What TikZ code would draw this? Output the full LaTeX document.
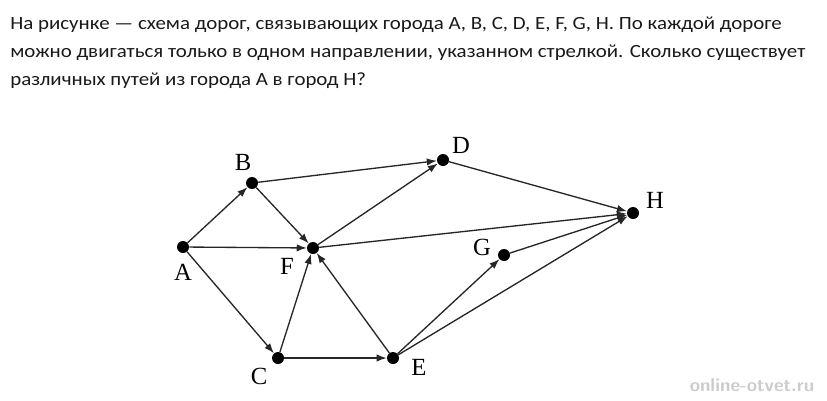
\documentclass[tikz,border=0pt]{standalone}
\usepackage{fontspec}
\setmainfont{Carlito}
\newfontfamily\labelfont{Liberation Serif}
\usetikzlibrary{arrows.meta,positioning}
\begin{document}
\begin{tikzpicture}
        [x=0.75pt, y=-0.75pt,
        city/.style={circle, fill=black, inner sep=0pt, minimum size=9pt},
        road/.style={draw=black!85, line width=1pt, -{Latex[length=7.5pt,width=5.5pt]}},
        lbl/.style={font=\labelfont\fontsize{18.5}{18.5}\selectfont, inner sep=1pt},
        line/.style={anchor=base west, inner sep=0pt, xscale=1.12, transform shape, text=black!90, font=\fontsize{14}{16}\selectfont},
        ]
        \useasboundingbox (0,0) rectangle (827,400);
        % question
        \node[line] (q1) at (10,29) {На рисунке — схема дорог, связывающих города A, B, C, D, E, F, G, H. По каждой дороге};
        \node[line] (q2) at (10,57) {можно двигаться только в одном направлении, указанном стрелкой. Сколько существует};
        \node[line] (q3) at (10,85) {различных путей из города A в город H?};
        % cities
        \node[city] (A) at (183,247) {};
        \node[city] (B) at (252,183) {};
        \node[city] (D) at (443,160) {};
        \node[city] (F) at (313,248) {};
        \node[city] (C) at (278,358) {};
        \node[city] (E) at (393,358) {};
        \node[city] (G) at (504,255) {};
        \node[city] (H) at (633,213) {};
        \node[lbl] at (183,272) {A};
        \node[lbl] at (243,162) {B};
        \node[lbl] at (461,145) {D};
        \node[lbl] at (287,266) {F};
        \node[lbl] at (259,376) {C};
        \node[lbl] at (419,367) {E};
        \node[lbl] at (482,247) {G};
        \node[lbl] at (655,200) {H};
        % roads
        \foreach \from/\to in {A/B, A/F, A/C, B/D, B/F, C/F, C/E, E/F, E/G, F/D, F/H, D/H, G/H, E/H}
          \draw[road] (\from) -- (\to);
        % watermark
        \node[font=\sffamily\bfseries\fontsize{14}{14}\selectfont, text=black!20] (wm) at (752,385) {online-otvet.ru};
        \end{tikzpicture}
\end{document}
